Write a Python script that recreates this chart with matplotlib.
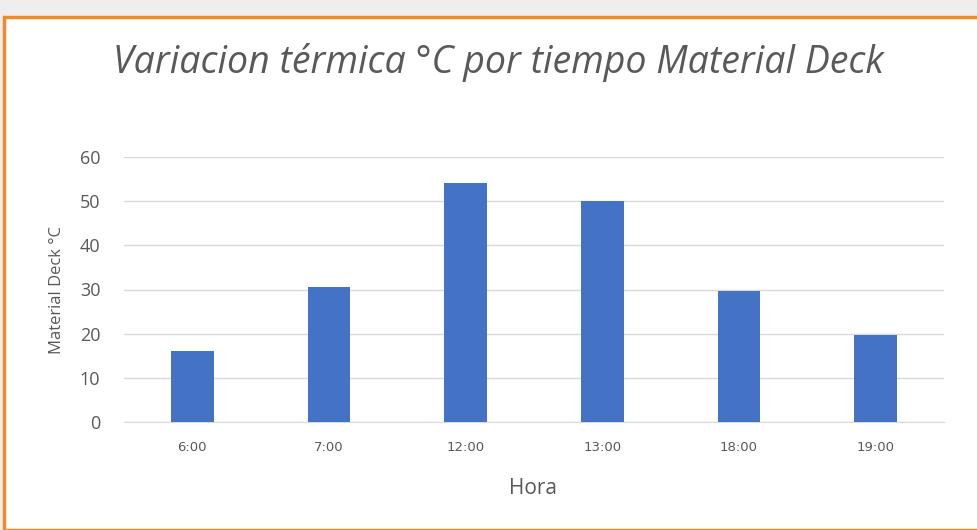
import matplotlib
matplotlib.use("Agg")
import matplotlib.pyplot as plt
from matplotlib.patches import Rectangle

categories = ["6:00", "7:00", "12:00", "13:00", "18:00", "19:00"]
values = [16, 30.5, 54, 50, 29.7, 19.7]
yticks = [0, 10, 20, 30, 40, 50, 60]

W, H = 977, 530
fig = plt.figure(figsize=(W/100, H/100), dpi=100)
fig.patch.set_facecolor("#eeeeee")
fig.patches.append(Rectangle((4/W, 0), 1.2, 1 - 17/H, transform=fig.transFigure,
                             facecolor="white", edgecolor="#f08a2a", linewidth=2.5, zorder=-5))

ax = fig.add_axes([124/W, 1 - 422/H, (944-124)/W, (422-157)/H])
ax.set_zorder(2)
ax.set_facecolor("white")
x = list(range(len(categories)))
ax.bar(x, values, width=0.31, color="#4472C4", zorder=3)
ax.set_xlim(-0.5, len(categories) - 0.5)
ax.set_ylim(0, 60)
ax.set_yticks(yticks)
ax.set_xticks(x)
ax.set_xticklabels(categories, fontsize=9.5, color="#595959", family="DejaVu Sans")
ax.tick_params(axis="y", labelsize=13, colors="#595959", length=0, pad=17)
ax.tick_params(axis="x", length=0, pad=14)
for lab in ax.get_yticklabels():
    lab.set_family("Open Sans")
ax.grid(axis="y", color="#d9d9d9", linewidth=1, zorder=0)
for s in ["top", "right", "left"]:
    ax.spines[s].set_visible(False)
ax.spines["bottom"].set_color("#d9d9d9")

fig.text(57/W, 1 - 290/H, "Material Deck °C", rotation=90, ha="center", va="center",
         fontsize=12, color="#595959", family="Open Sans", zorder=5)
fig.text(533/W, 1 - 489/H, "Hora", ha="center", va="center",
         fontsize=15, color="#595959", family="Open Sans", zorder=5)
fig.text(498/W, 1 - 62/H, "Variacion térmica °C por tiempo Material Deck", ha="center", va="center",
         fontsize=27, color="#595959", family="Open Sans", style="italic", zorder=5)

fig.savefig("out.png", dpi=100, facecolor=fig.get_facecolor())
